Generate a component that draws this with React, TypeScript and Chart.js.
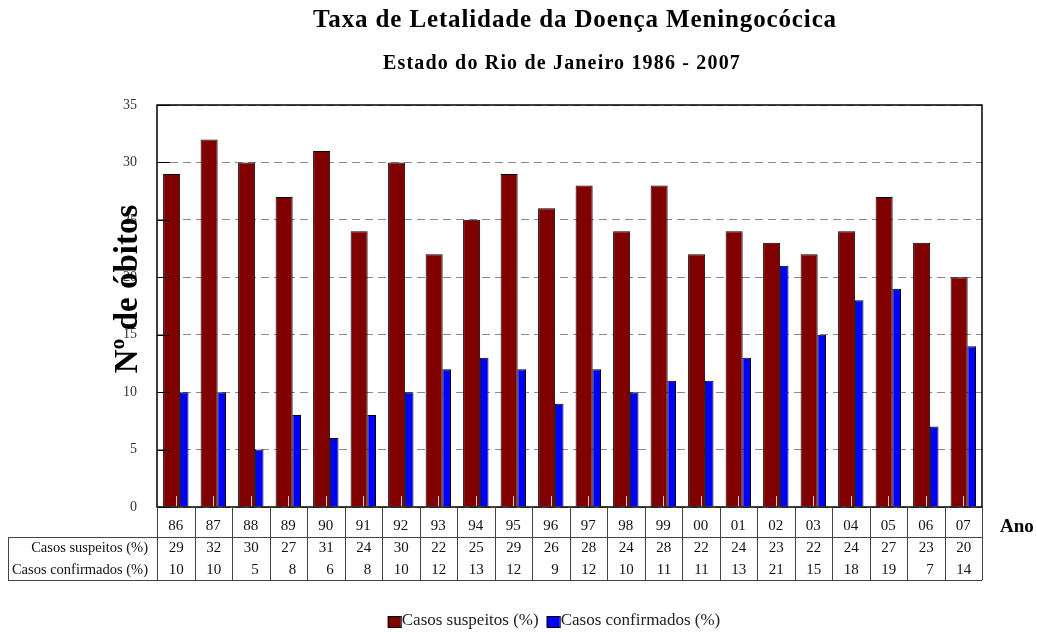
import React, { useEffect, useRef } from "react";
import { Chart, registerables } from "chart.js";

Chart.register(...registerables);

const years = ["86", "87", "88", "89", "90", "91", "92", "93", "94", "95", "96", "97", "98", "99", "00", "01", "02", "03", "04", "05", "06", "07"];
const suspeitos = [29, 32, 30, 27, 31, 24, 30, 22, 25, 29, 26, 28, 24, 28, 22, 24, 23, 22, 24, 27, 23, 20];
const confirmados = [10, 10, 5, 8, 6, 8, 10, 12, 13, 12, 9, 12, 10, 11, 11, 13, 21, 15, 18, 19, 7, 14];
const seriesLabels = ["Casos suspeitos (%)", "Casos confirmados (%)"];
const seriesColors = ["#800000", "#0000ff"];
const titleText = "Taxa de Letalidade da Doença Meningocócica";
const subtitleText = "Estado do Rio de Janeiro 1986 - 2007";
const yTitle = "Nº de óbitos";
const xTitle = "Ano";

const FONT = "'Liberation Serif', 'DejaVu Serif', serif";
// horizontal offset of each series' bar centre, as a fraction of a category width
const barShift = [-0.11, 0.225];

function fitText(ctx: any, text: string, cx: number, y: number, targetWidth: number) {
  ctx.letterSpacing = "0px";
  const w = ctx.measureText(text).width;
  const ls = (targetWidth - w) / text.length;
  ctx.letterSpacing = `${ls}px`;
  ctx.textAlign = "left";
  ctx.fillText(text, cx - targetWidth / 2, y);
  ctx.letterSpacing = "0px";
}

const framePlugin = {
  id: "frame",
  afterDatasetsUpdate(chart: any) {
    const xs = chart.scales.x;
    const cw = (xs.right - xs.left) / years.length;
    chart.data.datasets.forEach((_: any, di: number) => {
      const meta = chart.getDatasetMeta(di);
      meta.data.forEach((el: any) => {
        el.x += barShift[di] * cw;
      });
    });
  },
  afterDatasetsDraw(chart: any) {
    const { ctx, chartArea: a } = chart;
    const ys = chart.scales.y;
    const xs = chart.scales.x;
    ctx.save();
    // light tick marks at category centres
    ctx.strokeStyle = "#e9c9c9";
    ctx.lineWidth = 1;
    years.forEach((_, i) => {
      const x = Math.round(xs.getPixelForValue(i)) + 0.5;
      ctx.beginPath();
      ctx.moveTo(x, a.bottom - 11);
      ctx.lineTo(x, a.bottom);
      ctx.stroke();
    });
    // inward y tick marks
    ctx.strokeStyle = "#000";
    ys.ticks.forEach((t: any) => {
      const y = Math.round(ys.getPixelForValue(t.value)) + 0.5;
      ctx.beginPath();
      ctx.moveTo(a.left, y);
      ctx.lineTo(a.left + 13, y);
      ctx.stroke();
    });
    // frame
    ctx.lineWidth = 1.5;
    ctx.beginPath();
    ctx.moveTo(a.left, a.top);
    ctx.lineTo(a.right, a.top);
    ctx.lineTo(a.right, a.bottom);
    ctx.lineTo(a.left, a.bottom);
    ctx.closePath();
    ctx.stroke();
    ctx.restore();
  },
  afterDraw(chart: any) {
    const { ctx, chartArea: a } = chart;
    const xs = chart.scales.x;
    const cw = (a.right - a.left) / years.length;
    ctx.save();
    // table
    const rowY = [a.bottom + 30, a.bottom + 73];
    ctx.strokeStyle = "#444";
    ctx.lineWidth = 1;
    ctx.beginPath();
    ctx.moveTo(8, rowY[0] + 0.5);
    ctx.lineTo(a.right, rowY[0] + 0.5);
    ctx.moveTo(8, rowY[1] + 0.5);
    ctx.lineTo(a.right, rowY[1] + 0.5);
    ctx.moveTo(8.5, rowY[0]);
    ctx.lineTo(8.5, rowY[1]);
    for (let i = 0; i <= years.length; i++) {
      const x = Math.round(a.left + i * cw) + 0.5;
      ctx.moveTo(x, a.bottom);
      ctx.lineTo(x, rowY[1]);
    }
    ctx.stroke();

    ctx.fillStyle = "#111";
    ctx.font = `15px ${FONT}`;
    ctx.textBaseline = "middle";
    years.forEach((yr, i) => {
      const cx = xs.getPixelForValue(i);
      ctx.textAlign = "center";
      ctx.fillText(yr, cx, a.bottom + 19);
      ctx.textAlign = "right";
      ctx.fillText(String(suspeitos[i]), cx + 8, a.bottom + 41);
      ctx.fillText(String(confirmados[i]), cx + 8, a.bottom + 63);
    });
    ctx.font = `14.5px ${FONT}`;
    ctx.textAlign = "right";
    ctx.fillText(seriesLabels[0], a.left - 9, a.bottom + 41);
    ctx.fillText(seriesLabels[1], a.left - 9, a.bottom + 63);

    ctx.font = `bold 19px ${FONT}`;
    ctx.textAlign = "left";
    ctx.fillStyle = "#000";
    ctx.fillText(xTitle, a.right + 18, a.bottom + 20);

    // titles
    ctx.textBaseline = "alphabetic";
    ctx.font = `bold 25px ${FONT}`;
    fitText(ctx, titleText, 575, 27, 524);
    ctx.font = `bold 20px ${FONT}`;
    fitText(ctx, subtitleText, 562, 69, 358);

    // y title
    ctx.save();
    ctx.translate(128, 289);
    ctx.rotate(-Math.PI / 2);
    ctx.font = `bold 33px ${FONT}`;
    ctx.textBaseline = "middle";
    ctx.textAlign = "center";
    ctx.fillText(yTitle, 0, 0);
    ctx.restore();

    // legend
    ctx.font = `17px ${FONT}`;
    ctx.textBaseline = "middle";
    ctx.textAlign = "left";
    const box = 13;
    const gap = 8;
    const widths = seriesLabels.map((l) => box + 1 + ctx.measureText(l).width);
    const total = widths.reduce((s, w) => s + w, 0) + gap;
    let lx = 554 - total / 2;
    const ly = 621;
    chart.data.datasets.forEach((ds: any, i: number) => {
      ctx.fillStyle = ds.backgroundColor;
      ctx.fillRect(lx, ly - 5, box, 11);
      ctx.strokeStyle = "#000";
      ctx.strokeRect(lx + 0.5, ly - 5 + 0.5, box, 11);
      ctx.fillStyle = "#222";
      ctx.fillText(ds.label, lx + box + 1, ly);
      lx += widths[i] + gap;
    });
    ctx.restore();
  },
};

export default function App() {
  const ref = useRef<HTMLCanvasElement | null>(null);
  useEffect(() => {
    if (!ref.current) return;
    const chart = new Chart(ref.current, {
      type: "bar",
      data: {
        labels: years,
        datasets: [
          {
            label: seriesLabels[0],
            data: suspeitos,
            backgroundColor: seriesColors[0],
            borderColor: "#000",
            borderWidth: 1,
            grouped: false,
            barPercentage: 1,
            categoryPercentage: 0.455,
          },
          {
            label: seriesLabels[1],
            data: confirmados,
            backgroundColor: seriesColors[1],
            borderColor: "#000",
            borderWidth: 1,
            grouped: false,
            barPercentage: 1,
            categoryPercentage: 0.23,
          },
        ],
      },
      options: {
        responsive: false,
        animation: false,
        events: [],
        layout: { padding: { left: 117, right: 55, top: 105, bottom: 125 } },
        plugins: { legend: { display: false }, title: { display: false }, tooltip: { enabled: false } },
        scales: {
          x: {
            ticks: { display: false },
            grid: { display: false },
            border: { display: false },
            afterFit: (s: any) => {
              s.height = 0;
            },
          },
          y: {
            min: 0,
            max: 35,
            ticks: { stepSize: 5, color: "#333", font: { family: FONT, size: 14 }, padding: 20 },
            grid: { color: "#8a8a8a", drawTicks: false },
            border: { display: false, dash: [8, 5] },
            afterFit: (s: any) => {
              s.width = 40;
            },
          },
        },
      },
      plugins: [framePlugin],
    } as any);
    return () => chart.destroy();
  }, []);
  return (
    <div style={{ position: "absolute", left: 0, top: 0, width: 1037, height: 632, background: "#fff" }}>
      <canvas ref={ref} width={1037} height={632} style={{ display: "block" }} />
    </div>
  );
}
